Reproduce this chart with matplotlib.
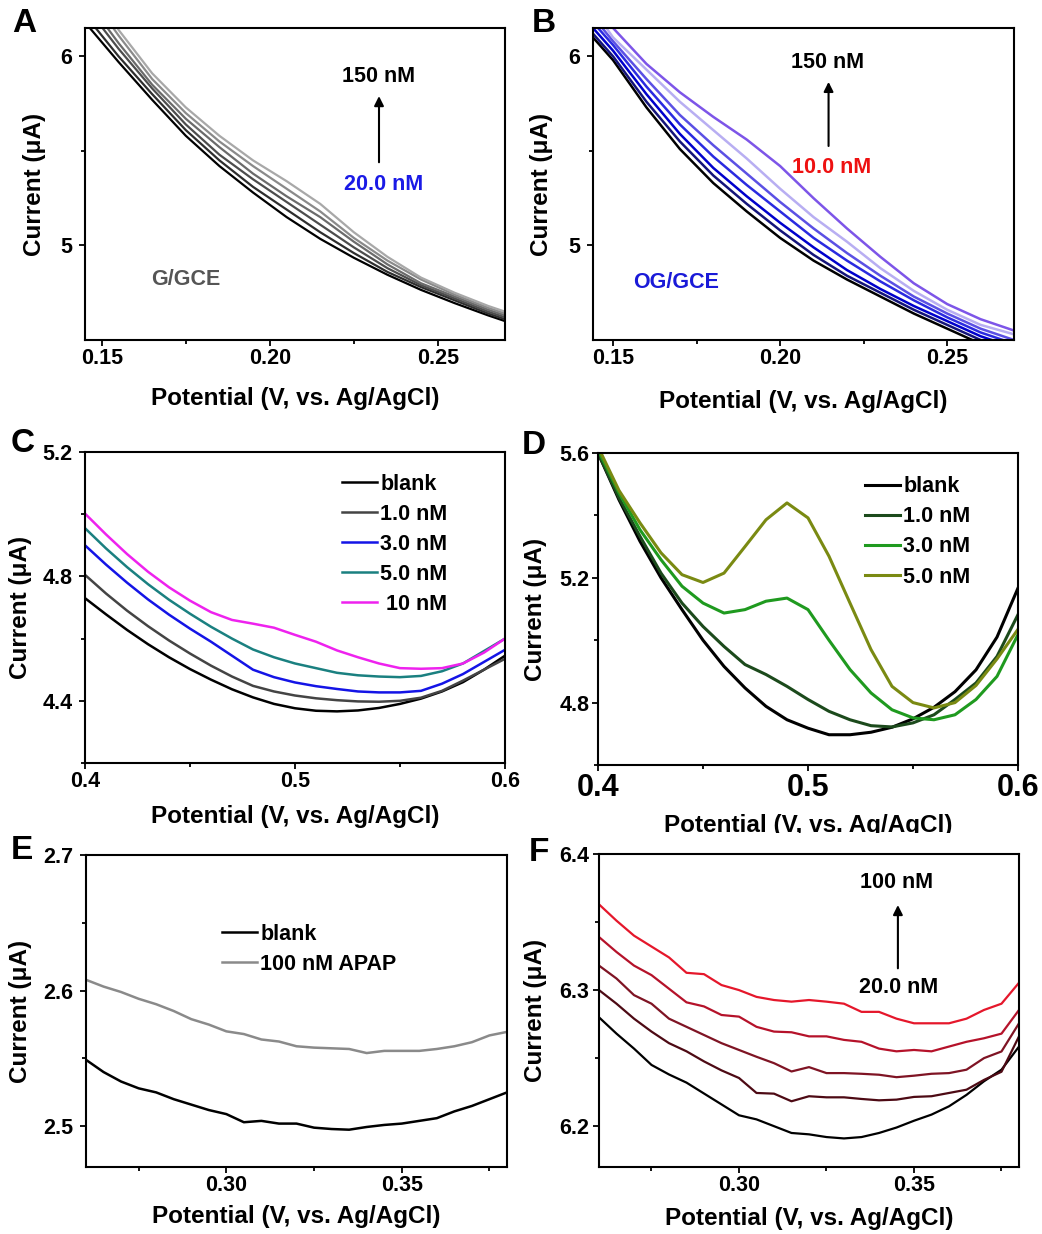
import numpy as np
import matplotlib.pyplot as plt
from matplotlib.patches import Rectangle

plt.rcParams['font.family'] = ['Liberation Sans', 'DejaVu Sans']
plt.rcParams['font.weight'] = 'bold'
plt.rcParams['axes.labelweight'] = 'bold'

# ---- panel A: G/GCE, 20.0 -> 150 nM
a_pot = [0.145, 0.155, 0.165, 0.175, 0.185, 0.195, 0.205, 0.215, 0.225, 0.235, 0.245, 0.255, 0.265, 0.27]
a_curves = [
    [6.18, 5.97, 5.77, 5.58, 5.42, 5.28, 5.15, 5.035, 4.935, 4.845, 4.765, 4.695, 4.63, 4.60],
    [6.22, 6.00, 5.80, 5.61, 5.45, 5.31, 5.19, 5.07, 4.96, 4.86, 4.78, 4.71, 4.64, 4.61],
    [6.27, 6.04, 5.83, 5.64, 5.48, 5.35, 5.23, 5.11, 4.99, 4.88, 4.79, 4.72, 4.65, 4.62],
    [6.31, 6.07, 5.85, 5.67, 5.52, 5.38, 5.26, 5.15, 5.02, 4.90, 4.80, 4.73, 4.66, 4.63],
    [6.36, 6.11, 5.88, 5.70, 5.55, 5.42, 5.30, 5.18, 5.04, 4.92, 4.82, 4.74, 4.67, 4.64],
    [6.40, 6.14, 5.91, 5.73, 5.58, 5.45, 5.34, 5.22, 5.07, 4.94, 4.83, 4.75, 4.68, 4.65],
]
a_colors = ['#000000', '#2e2e2e', '#4d4d4d', '#6b6b6b', '#8a8a8a', '#a8a8a8']

# ---- panel B: OG/GCE, 10.0 -> 150 nM
b_pot = [0.144, 0.15, 0.16, 0.17, 0.18, 0.19, 0.20, 0.21, 0.22, 0.23, 0.24, 0.25, 0.26, 0.27]
b_curves = [
    [6.10, 5.98, 5.73, 5.51, 5.33, 5.18, 5.04, 4.92, 4.82, 4.73, 4.64, 4.56, 4.48, 4.42],
    [6.12, 6.00, 5.76, 5.55, 5.37, 5.22, 5.08, 4.95, 4.84, 4.75, 4.66, 4.58, 4.50, 4.44],
    [6.15, 6.03, 5.80, 5.59, 5.41, 5.26, 5.12, 4.99, 4.87, 4.77, 4.68, 4.60, 4.52, 4.46],
    [6.18, 6.06, 5.84, 5.64, 5.47, 5.32, 5.18, 5.04, 4.92, 4.81, 4.71, 4.62, 4.54, 4.48],
    [6.21, 6.08, 5.88, 5.69, 5.53, 5.38, 5.23, 5.09, 4.96, 4.84, 4.73, 4.64, 4.56, 4.50],
    [6.25, 6.10, 5.93, 5.76, 5.61, 5.46, 5.30, 5.15, 5.02, 4.88, 4.76, 4.66, 4.58, 4.53],
    [6.30, 6.15, 5.96, 5.81, 5.68, 5.56, 5.42, 5.25, 5.09, 4.94, 4.80, 4.69, 4.61, 4.55],
]
b_colors = ['#000000', '#14147a', '#0000cc', '#2a2ae0', '#5b50e4', '#b8aef2', '#7d55e8']

# ---- panel C
c_pot = [0.40, 0.41, 0.42, 0.43, 0.44, 0.45, 0.46, 0.47, 0.48, 0.49, 0.50,
         0.51, 0.52, 0.53, 0.54, 0.55, 0.56, 0.57, 0.58, 0.59, 0.60]
c_labels = ['blank', '1.0 nM', '3.0 nM', '5.0 nM', ' 10 nM']
c_curves = [
    [4.730, 4.678, 4.628, 4.582, 4.540, 4.502, 4.468, 4.437, 4.411, 4.390, 4.376,
     4.368, 4.366, 4.369, 4.377, 4.390, 4.407, 4.430, 4.460, 4.500, 4.545],
    [4.805, 4.745, 4.690, 4.640, 4.594, 4.552, 4.513, 4.478, 4.448, 4.430, 4.417,
     4.408, 4.402, 4.398, 4.397, 4.400, 4.410, 4.432, 4.465, 4.500, 4.535],
    [4.900, 4.838, 4.780, 4.726, 4.677, 4.632, 4.590, 4.545, 4.500, 4.476, 4.459,
     4.447, 4.438, 4.430, 4.427, 4.427, 4.432, 4.455, 4.486, 4.525, 4.564],
    [4.955, 4.890, 4.830, 4.775, 4.725, 4.680, 4.638, 4.600, 4.565, 4.540, 4.520,
     4.505, 4.490, 4.482, 4.478, 4.476, 4.480, 4.495, 4.520, 4.560, 4.600],
    [5.002, 4.935, 4.872, 4.815, 4.765, 4.722, 4.685, 4.660, 4.648, 4.635, 4.612,
     4.590, 4.562, 4.540, 4.520, 4.505, 4.503, 4.505, 4.520, 4.555, 4.600],
]
c_colors = ['#000000', '#444444', '#1414e6', '#1a8080', '#ee22ee']

# ---- panel D
d_pot = c_pot
d_labels = ['blank', '1.0 nM', '3.0 nM', '5.0 nM']
d_curves = [
    [5.600, 5.450, 5.317, 5.200, 5.098, 5.000, 4.916, 4.847, 4.788, 4.745, 4.718,
     4.697, 4.697, 4.705, 4.721, 4.748, 4.785, 4.835, 4.905, 5.010, 5.167],
    [5.600, 5.456, 5.333, 5.215, 5.119, 5.044, 4.980, 4.922, 4.890, 4.852, 4.810,
     4.772, 4.745, 4.726, 4.722, 4.735, 4.761, 4.810, 4.863, 4.948, 5.082],
    [5.610, 5.472, 5.354, 5.258, 5.173, 5.119, 5.087, 5.098, 5.125, 5.135, 5.098,
     5.000, 4.906, 4.831, 4.777, 4.751, 4.745, 4.761, 4.810, 4.884, 5.018],
    [5.620, 5.480, 5.376, 5.280, 5.210, 5.185, 5.215, 5.300, 5.386, 5.440, 5.392,
     5.269, 5.119, 4.970, 4.852, 4.800, 4.783, 4.800, 4.855, 4.940, 5.035],
]
d_colors = ['#000000', '#1c4a1c', '#1f9a1f', '#7a8a12']

# ---- panel E
e_pot = [0.260, 0.265, 0.270, 0.275, 0.280, 0.285, 0.290, 0.295, 0.300, 0.305, 0.310,
         0.315, 0.320, 0.325, 0.330, 0.335, 0.340, 0.345, 0.350, 0.355, 0.360,
         0.365, 0.370, 0.375, 0.380]
e_labels = ['blank', '100 nM APAP']
e_curves = [
    [2.549, 2.540, 2.533, 2.528, 2.525, 2.520, 2.516, 2.512, 2.509, 2.503, 2.504,
     2.502, 2.502, 2.499, 2.498, 2.4975, 2.4995, 2.501, 2.502, 2.504, 2.506,
     2.511, 2.515, 2.520, 2.525],
    [2.608, 2.603, 2.599, 2.594, 2.590, 2.585, 2.579, 2.575, 2.570, 2.568, 2.564,
     2.5625, 2.559, 2.558, 2.5575, 2.557, 2.554, 2.5556, 2.5556, 2.5556, 2.557,
     2.559, 2.562, 2.567, 2.5696],
]
e_colors = ['#000000', '#8a8a8a']

# ---- panel F: 20.0 -> 100 nM
f_pot = e_pot
f_curves = [
    [6.280, 6.268, 6.257, 6.245, 6.238, 6.232, 6.224, 6.216, 6.208, 6.205, 6.200,
     6.195, 6.194, 6.192, 6.191, 6.192, 6.195, 6.199, 6.204, 6.2085, 6.2146,
     6.223, 6.233, 6.2415, 6.2585],
    [6.300, 6.290, 6.279, 6.2695, 6.261, 6.255, 6.2476, 6.241, 6.2354, 6.2244, 6.2239,
     6.2183, 6.222, 6.2212, 6.2212, 6.220, 6.219, 6.2195, 6.2215, 6.222, 6.2244,
     6.2268, 6.234, 6.240, 6.266],
    [6.318, 6.3085, 6.2963, 6.290, 6.279, 6.273, 6.267, 6.261, 6.256, 6.251, 6.2463,
     6.2402, 6.2434, 6.239, 6.239, 6.2385, 6.2378, 6.236, 6.2371, 6.2385, 6.239,
     6.2415, 6.250, 6.2549, 6.2756],
    [6.339, 6.328, 6.318, 6.311, 6.301, 6.291, 6.288, 6.2817, 6.2805, 6.273, 6.2695,
     6.269, 6.266, 6.266, 6.2634, 6.262, 6.257, 6.255, 6.256, 6.255, 6.2585,
     6.262, 6.2646, 6.268, 6.2854],
    [6.363, 6.351, 6.340, 6.332, 6.324, 6.3127, 6.3117, 6.3037, 6.300, 6.295, 6.2927,
     6.2915, 6.2927, 6.2915, 6.290, 6.284, 6.284, 6.279, 6.2756, 6.2756, 6.2756,
     6.279, 6.2854, 6.290, 6.3054],
]
f_colors = ['#000000', '#4d0a14', '#7f1424', '#b5122a', '#e5172b']

W, H = 1042, 1234
fig = plt.figure(figsize=(W / 100, H / 100), dpi=100)

TICK_FS = 15.5
LABEL_FS = 17.5
TEXT_FS = 15.5


def make_ax(left, top, right, bottom):
    return fig.add_axes([left / W, 1 - bottom / H, (right - left) / W, (bottom - top) / H])


def style(ax, xlim, ylim, xt, xtl, xminor, yt, ytl, yminor, ylab_x, xlab_y,
          xfs=TICK_FS, ypad=5):
    ax.set_xlim(*xlim)
    ax.set_ylim(*ylim)
    ax.set_xticks(xt)
    ax.set_xticklabels(xtl, fontsize=xfs, fontweight='bold')
    ax.set_xticks(xminor, minor=True)
    ax.set_yticks(yt)
    ax.set_yticklabels(ytl, fontsize=TICK_FS, fontweight='bold')
    ax.set_yticks(yminor, minor=True)
    for s in ax.spines.values():
        s.set_linewidth(1.5)
    ax.tick_params(which='both', direction='out', top=False, right=False, width=1.3)
    ax.tick_params(which='major', length=4, pad=2)
    ax.tick_params(axis='y', which='major', pad=ypad)
    ax.tick_params(which='minor', length=3)
    ax.set_xlabel('Potential (V, vs. Ag/AgCl)', fontsize=LABEL_FS, fontweight='bold')
    ax.set_ylabel('Current (μA)', fontsize=LABEL_FS, fontweight='bold')
    ax.yaxis.set_label_coords(ylab_x, 0.5)
    ax.xaxis.set_label_coords(0.5, xlab_y)


def arrow(ax, x, y0, y1):
    ax.annotate('', xy=(x, y1), xytext=(x, y0),
                arrowprops=dict(arrowstyle='-|>', color='k', lw=1.5,
                                mutation_scale=14, shrinkA=0, shrinkB=0))


def legend(ax, x, y):
    ax.legend(frameon=False, loc='upper left', bbox_to_anchor=(x, y), borderpad=0,
              borderaxespad=0, handlelength=1.63, handletextpad=0.15, labelspacing=0.42,
              prop={'size': TEXT_FS, 'weight': 'bold'})


# A
ax = make_ax(85, 28, 505, 340)
for ys, col in zip(a_curves, a_colors):
    ax.plot(a_pot, ys, color=col, lw=1.6)
style(ax, (0.145, 0.27), (4.5, 6.15), [0.15, 0.20, 0.25], ['0.15', '0.20', '0.25'],
      [0.175, 0.225], [5, 6], ['5', '6'], [5.5], -0.092, -0.150)
ax.text(0.2325, 5.895, '150 nM', ha='center', va='center', fontsize=TEXT_FS, color='k')
ax.text(0.234, 5.32, '20.0 nM', ha='center', va='center', fontsize=TEXT_FS, color='#1a1ae6')
arrow(ax, 0.2325, 5.44, 5.79)
ax.text(0.175, 4.82, 'G/GCE', ha='center', va='center', fontsize=TEXT_FS, color='#555555')

# B
ax = make_ax(593, 28, 1014, 340)
for ys, col in zip(b_curves, b_colors):
    ax.plot(b_pot, ys, color=col, lw=1.8)
style(ax, (0.144, 0.27), (4.5, 6.15), [0.15, 0.20, 0.25], ['0.15', '0.20', '0.25'],
      [0.175, 0.225], [5, 6], ['5', '6'], [5.5], -0.095, -0.160)
ax.text(0.2142, 5.97, '150 nM', ha='center', va='center', fontsize=TEXT_FS, color='k')
ax.text(0.2154, 5.41, '10.0 nM', ha='center', va='center', fontsize=TEXT_FS, color='#ee1111')
arrow(ax, 0.2145, 5.526, 5.865)
ax.text(0.1689, 4.805, 'OG/GCE', ha='center', va='center', fontsize=TEXT_FS, color='#1a1ad8')

# C
ax = make_ax(85, 452, 505, 763)
for ys, col, lab in zip(c_curves, c_colors, c_labels):
    ax.plot(c_pot, ys, color=col, lw=1.8, label=lab)
style(ax, (0.4, 0.6), (4.2, 5.2), [0.4, 0.5, 0.6], ['0.4', '0.5', '0.6'],
      [0.45, 0.55], [4.4, 4.8, 5.2], ['4.4', '4.8', '5.2'], [4.2, 4.6, 5.0], -0.126, -0.135)
legend(ax, 0.612, 0.93)

# D
ax = make_ax(598, 453, 1018, 765)
for ys, col, lab in zip(d_curves, d_colors, d_labels):
    ax.plot(d_pot, ys, color=col, lw=2.2, label=lab)
style(ax, (0.4, 0.6), (4.6, 5.6), [0.4, 0.5, 0.6], ['0.4', '0.5', '0.6'],
      [0.45, 0.55], [4.8, 5.2, 5.6], ['4.8', '5.2', '5.6'], [4.6, 5.0, 5.4], -0.121, -0.157,
      xfs=22, ypad=2)
legend(ax, 0.636, 0.925)

# E
ax = make_ax(86, 855, 507, 1167)
for ys, col, lab in zip(e_curves, e_colors, e_labels):
    ax.plot(e_pot, ys, color=col, lw=1.8, label=lab)
style(ax, (0.26, 0.38), (2.47, 2.7), [0.30, 0.35], ['0.30', '0.35'],
      [0.275, 0.325, 0.375], [2.5, 2.6, 2.7], ['2.5', '2.6', '2.7'], [2.55, 2.65],
      -0.128, -0.122)
legend(ax, 0.323, 0.78)

# F
ax = make_ax(599, 854, 1019, 1167)
for ys, col in zip(f_curves, f_colors):
    ax.plot(f_pot, ys, color=col, lw=1.6)
style(ax, (0.26, 0.38), (6.17, 6.4), [0.30, 0.35], ['0.30', '0.35'],
      [0.275, 0.325, 0.375], [6.2, 6.3, 6.4], ['6.2', '6.3', '6.4'], [6.25, 6.35],
      -0.124, -0.128, ypad=3)
ax.text(0.3449, 6.379, '100 nM', ha='center', va='center', fontsize=TEXT_FS, color='k')
ax.text(0.3457, 6.302, '20.0 nM', ha='center', va='center', fontsize=TEXT_FS, color='k')
arrow(ax, 0.3454, 6.316, 6.3625)

# the D axis title is cut off at the bottom in the original
fig.patches.append(Rectangle((600 / W, 1 - 848 / H), 442 / W, 15 / H, transform=fig.transFigure,
                             facecolor='white', edgecolor='none', zorder=10))

# panel letters
for lab, x, y in [('A', 12, 8), ('B', 532, 8), ('C', 11, 428), ('D', 522, 430),
                  ('E', 11, 835), ('F', 529, 837)]:
    fig.text(x / W, 1 - y / H, lab, ha='left', va='top', fontsize=24, fontweight='bold',
             zorder=20)

fig.savefig('out.png', dpi=100)
